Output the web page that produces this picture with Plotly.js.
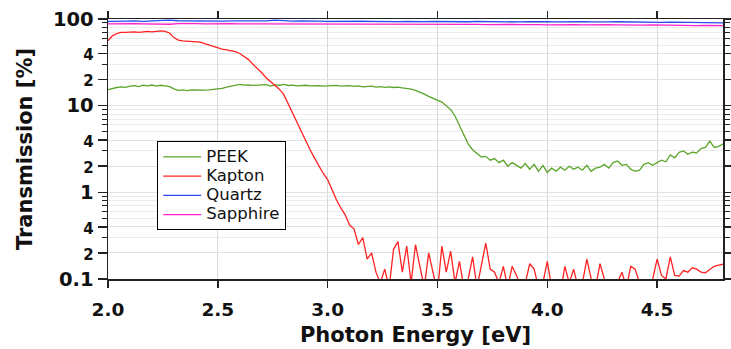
<!DOCTYPE html>
<html><head><meta charset="utf-8">
<script src="https://cdn.plot.ly/plotly-3.0.1.min.js"></script>
<style>html,body{margin:0;padding:0;background:#fff}#chart{width:731px;height:349px}</style>
</head><body><div id="chart"></div>
<script>
// Energy grid (eV) for PEEK and Kapton, step 0.02
const energyFine = [2.00,2.02,2.04,2.06,2.08,2.10,2.12,2.14,2.16,2.18,2.20,2.22,2.24,2.26,2.28,2.30,2.32,2.34,2.36,2.38,
2.40,2.42,2.44,2.46,2.48,2.50,2.52,2.54,2.56,2.58,2.60,2.62,2.64,2.66,2.68,2.70,2.72,2.74,2.76,2.78,
2.80,2.82,2.84,2.86,2.88,2.90,2.92,2.94,2.96,2.98,3.00,3.02,3.04,3.06,3.08,3.10,3.12,3.14,3.16,3.18,
3.20,3.22,3.24,3.26,3.28,3.30,3.32,3.34,3.36,3.38,3.40,3.42,3.44,3.46,3.48,3.50,3.52,3.54,3.56,3.58,
3.60,3.62,3.64,3.66,3.68,3.70,3.72,3.74,3.76,3.78,3.80,3.82,3.84,3.86,3.88,3.90,3.92,3.94,3.96,3.98,
4.00,4.02,4.04,4.06,4.08,4.10,4.12,4.14,4.16,4.18,4.20,4.22,4.24,4.26,4.28,4.30,4.32,4.34,4.36,4.38,
4.40,4.42,4.44,4.46,4.48,4.50,4.52,4.54,4.56,4.58,4.60,4.62,4.64,4.66,4.68,4.70,4.72,4.74,4.76,4.78,4.80];

const peek = [15.3,15.8,16.2,16.5,16.3,16.8,17.0,16.6,17.2,16.9,17.3,16.8,17.2,16.9,16.6,15.6,15.0,15.2,14.9,15.2,
15.1,15.3,15.1,15.2,15.4,15.3,15.8,16.4,16.7,17.1,17.6,17.3,17.4,17.1,17.3,17.2,17.5,16.8,17.4,17.2,
17.6,17.1,17.3,16.9,17.0,17.2,16.9,17.1,17.0,16.8,17.0,16.9,17.1,16.8,16.9,17.0,16.7,16.9,16.5,16.7,
16.8,16.4,16.6,16.3,16.5,16.2,16.4,16.0,15.8,15.5,15.0,14.4,13.6,12.8,12.2,11.6,11.0,10.0,9.0,7.6,
5.9,4.6,3.6,3.1,2.8,2.55,2.6,2.35,2.45,2.2,2.35,2.0,2.2,2.05,1.9,2.15,1.85,2.1,1.75,2.05,
1.7,1.9,1.75,1.95,1.8,2.0,1.85,1.95,1.8,2.05,1.75,1.9,1.95,2.1,1.9,2.2,2.3,2.05,2.1,1.85,
1.75,1.8,2.1,2.2,2.05,2.2,2.35,2.25,2.7,2.5,2.9,3.0,2.75,2.9,2.85,3.2,3.3,3.9,3.3,3.4,3.6];

const kapton = [56,64,68,70,70,71,71,70,71,72,71,72,73,72,69,61,57,56,55.5,55.5,
55,54,52,50,48,46,45,44,43,42,40,37,34,30,27,24,21,19,17,15.5,
13.5,10.5,8.3,6.5,5.0,3.9,3.1,2.5,2.0,1.65,1.4,1.05,0.82,0.66,0.55,0.42,0.38,0.25,0.3,0.17,
0.2,0.12,0.09,0.13,0.08,0.22,0.27,0.12,0.24,0.09,0.25,0.14,0.08,0.2,0.11,0.07,0.24,0.12,0.21,0.09,
0.16,0.08,0.1,0.18,0.08,0.15,0.26,0.13,0.12,0.09,0.14,0.08,0.14,0.11,0.08,0.09,0.15,0.13,0.08,0.09,
0.16,0.08,0.09,0.07,0.14,0.09,0.13,0.08,0.09,0.17,0.1,0.08,0.15,0.1,0.08,0.07,0.09,0.12,0.08,0.14,
0.13,0.09,0.08,0.07,0.1,0.17,0.11,0.1,0.18,0.11,0.108,0.125,0.12,0.135,0.13,0.12,0.118,0.13,0.14,0.145,0.148];

// Energy grid (eV) for Quartz and Sapphire, step 0.04
const energyCoarse = [2.00,2.04,2.08,2.12,2.16,2.20,2.24,2.28,2.32,2.36,2.40,2.44,2.48,2.52,2.56,2.60,2.64,2.68,2.72,2.76,
2.80,2.84,2.88,2.92,2.96,3.00,3.04,3.08,3.12,3.16,3.20,3.24,3.28,3.32,3.36,3.40,3.44,3.48,3.52,3.56,
3.60,3.64,3.68,3.72,3.76,3.80,3.84,3.88,3.92,3.96,4.00,4.04,4.08,4.12,4.16,4.20,4.24,4.28,4.32,4.36,
4.40,4.44,4.48,4.52,4.56,4.60,4.64,4.68,4.72,4.76,4.80];

const quartz = [94,95,94.5,95,94,95,95.5,97,95.5,95,95,94.5,95,94.5,95,95,95,94.5,95,97,
95,94.5,95,94,94.5,94,94.5,93.5,94,94.5,94,93.5,94,93.5,94,93,93.5,94,93.5,93,
93.5,93,94,93.5,93,93.5,93,92.5,93,93.5,93,92.5,93,92.5,93,92.5,92,92.5,93,92.5,
92,92.5,92,91.5,92,91.5,91,91.5,91,90.5,90];

const sapphire = [88,88.5,88,88.5,88,87.5,86,87,88.5,89,88.5,88,88.5,88,88.5,88,88,87.5,88,88,
87.5,88,87.5,87,87.5,88,87.5,87,87.5,87,87.5,87,86.5,87,87.5,87,86.5,87,86.5,87,
86.5,87,86.5,86,86.5,87,86.5,86,86.5,86,85.5,86,86.5,86,85.5,86,85.5,86,85.5,85,
85.5,85,85.5,85,84.5,85,84.5,84,84.5,84,84];

// Series names, axis tick values / labels
const seriesNames = ['PEEK', 'Kapton', 'Quartz', 'Sapphire'];
const xTickVals = [2.0,2.5,3.0,3.5,4.0,4.5];
const yTickVals = [0.1,0.2,0.4,1,2,4,10,20,40,100];
const yTickText = ['0.1','2','4','1','2','4','10','2','4','100'];
const yMinorVals = [0.3,0.5,0.6,0.7,0.8,0.9,3,5,6,7,8,9,30,50,60,70,80,90];

const FONT = 'DejaVu Sans, Liberation Sans, Arial, sans-serif';
const majorSet = new Set(['0.1','1','10','100']);
const yText = yTickText.map(t => majorSet.has(t) ? t : '<span style="font-size:15px">' + t + '</span>');
const legName = n => '<span style="font-size:16.5px">' + n + '</span>';

const lw = 1.3;
const colors = ['#5aa52a', '#ff2222', '#2b4cf5', '#ff22cc'];
const xs = [energyFine, energyFine, energyCoarse, energyCoarse];
const ys = [peek, kapton, quartz, sapphire];
const traces = seriesNames.map((n, i) => ({
  x: xs[i], y: ys[i], name: legName(n), type: 'scatter', mode: 'lines',
  line: {color: colors[i], width: lw}
}));

const layout = {
  width: 731, height: 349,
  margin: {l: 108, r: 8, t: 19, b: 70},
  paper_bgcolor: '#fff', plot_bgcolor: '#fff',
  showlegend: true,
  legend: {x: 0.08, y: 0.53, xanchor: 'left', yanchor: 'top', bgcolor: '#fff',
    bordercolor: '#000', borderwidth: 1, font: {family: FONT, size: 12.5, color: '#111'},
    tracegroupgap: 0, itemwidth: 38},
  xaxis: {
    range: [2.0, 4.8], tickmode: 'array', tickvals: xTickVals, tickformat: '.1f',
    ticks: 'outside', ticklen: 7, tickwidth: 1.5, tickcolor: '#222',
    showline: true, linecolor: '#222', linewidth: 1.5, mirror: 'ticks',
    showgrid: true, gridcolor: '#d9d9d9', gridwidth: 1, zeroline: false,
    ticklabelstandoff: 6,
    tickfont: {family: FONT, size: 18.5, weight: 'bold', color: '#111'},
    title: {text: 'Photon Energy [eV]', font: {family: FONT, size: 21, weight: 'bold', color: '#111'}, standoff: 8}
  },
  yaxis: {
    type: 'log', range: [-1, 2], tickmode: 'array', tickvals: yTickVals, ticktext: yText,
    ticks: 'outside', ticklen: 9, tickwidth: 1.5, tickcolor: '#222',
    showline: true, linecolor: '#222', linewidth: 1.5, mirror: 'ticks',
    showgrid: true, gridcolor: '#e2e2e2', gridwidth: 1, zeroline: false,
    tickfont: {family: FONT, size: 19.5, weight: 'bold', color: '#111'},
    minor: {tickmode: 'array', tickvals: yMinorVals, ticks: 'outside', ticklen: 5, tickwidth: 1, tickcolor: '#222',
      showgrid: true, gridcolor: '#ececec', gridwidth: 1},
    title: {text: 'Transmission [%]', font: {family: FONT, size: 21, weight: 'bold', color: '#111'}, standoff: 14}
  }
};

Plotly.newPlot('chart', traces, layout, {displayModeBar: false, staticPlot: true});
</script>
</body></html>
